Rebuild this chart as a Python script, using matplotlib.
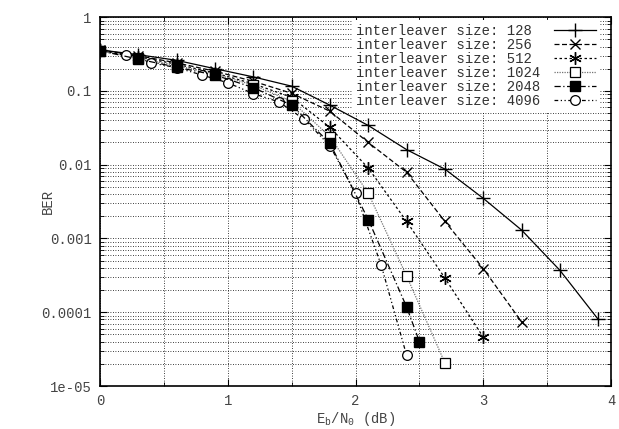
import numpy as np
import matplotlib
matplotlib.use('Agg')
import matplotlib.pyplot as plt
from matplotlib.ticker import FixedLocator, FixedFormatter, MultipleLocator, LogLocator, NullFormatter

plt.rcParams['font.family'] = ['Liberation Mono', 'DejaVu Sans Mono']
plt.rcParams['mathtext.default'] = 'regular'

# BER curves
x128 = [0, 0.3, 0.6, 0.9, 1.2, 1.5, 1.8, 2.1, 2.4, 2.7, 3.0, 3.3, 3.6, 3.9]
ber128 = [0.36, 0.31, 0.26, 0.20, 0.155, 0.116, 0.064, 0.034, 0.016, 0.0087, 0.0035, 0.0013, 0.00037, 8.0e-5]

x256 = [0, 0.3, 0.6, 0.9, 1.2, 1.5, 1.8, 2.1, 2.4, 2.7, 3.0, 3.3]
ber256 = [0.36, 0.30, 0.24, 0.185, 0.135, 0.093, 0.053, 0.020, 0.0079, 0.0017, 0.00039, 7.4e-5]

x512 = [0, 0.3, 0.6, 0.9, 1.2, 1.5, 1.8, 2.1, 2.4, 2.7, 3.0]
ber512 = [0.36, 0.29, 0.23, 0.175, 0.125, 0.082, 0.032, 0.0090, 0.0017, 0.00029, 4.6e-5]

x1024 = [0, 0.3, 0.6, 0.9, 1.2, 1.5, 1.8, 2.1, 2.4, 2.7]
ber1024 = [0.35, 0.28, 0.22, 0.17, 0.12, 0.072, 0.024, 0.0041, 0.00031, 2.05e-5]

x2048 = [0, 0.3, 0.6, 0.9, 1.2, 1.5, 1.8, 2.1, 2.4, 2.5]
ber2048 = [0.35, 0.27, 0.21, 0.164, 0.111, 0.064, 0.0194, 0.0018, 0.000118, 4.0e-5]

x4096 = [0, 0.2, 0.4, 0.6, 0.8, 1.0, 1.2, 1.4, 1.6, 1.8, 2.0, 2.2, 2.4]
ber4096 = [0.35, 0.305, 0.24, 0.207, 0.164, 0.129, 0.092, 0.071, 0.041, 0.018, 0.0041, 0.00044, 2.6e-5]

sizes = ['128', '256', '512', '1024', '2048', '4096']
yticks = [1, 0.1, 0.01, 0.001, 0.0001, 1e-05]
ytick_labels = ['1', '0.1', '0.01', '0.001', '0.0001', '1e-05']

# monospace font -> pad labels so they line up on the left
labels = [('interleaver size: ' + s).ljust(23) for s in sizes]

fig = plt.figure(figsize=(6.19, 4.29), dpi=100)
ax = fig.add_axes([0.1616, 0.1002, 0.8255, 0.8598])

ax.plot(x128, ber128, color='black', lw=0.9, ls='-', marker='+', ms=10, mew=1,
        label=labels[0])
ax.plot(x256, ber256, color='black', lw=0.9, ls=(0, (4, 2)), marker='x', ms=7, mew=1,
        label=labels[1])
ax.plot(x512, ber512, color='black', lw=0.9, ls=(0, (2, 2)), marker=(6, 2, 0), ms=9, mew=1,
        label=labels[2])
ax.plot(x1024, ber1024, color='0.45', lw=0.9, ls=(0, (1, 1)), marker='s', ms=7, mew=0.9,
        mfc='white', mec='black', label=labels[3])
ax.plot(x2048, ber2048, color='black', lw=0.9, ls=(0, (5, 2, 1, 2)), marker='s', ms=7,
        mfc='black', mec='black', label=labels[4], zorder=3)
ax.plot(x4096, ber4096, color='black', lw=0.9, ls=(0, (3, 2, 1, 2, 1, 2)), marker='o', ms=7,
        mew=0.9, mfc='white', mec='black', label=labels[5], zorder=2.5)

ax.set_yscale('log')
ax.set_xlim(0, 4)
ax.set_ylim(1e-05, 1)
ax.xaxis.set_major_locator(MultipleLocator(1))
ax.xaxis.set_minor_locator(MultipleLocator(0.5))
ax.yaxis.set_major_locator(FixedLocator(yticks))
ax.yaxis.set_major_formatter(FixedFormatter(ytick_labels))
ax.yaxis.set_minor_locator(LogLocator(base=10, subs=np.arange(2, 10)))
ax.yaxis.set_minor_formatter(NullFormatter())

ax.grid(True, which='both', color='black', ls=(0, (1, 2)), lw=0.6)
ax.tick_params(which='both', direction='in', top=True, right=True, labelsize=10,
               colors='black', labelcolor='#444444')
ax.tick_params(which='major', length=5, pad=6)
ax.tick_params(which='minor', length=3)
for s in ax.spines.values():
    s.set_linewidth(1.2)

ax.set_xlabel('E$_b$/N$_0$ (dB)', fontsize=10, color='#444444')
ax.xaxis.set_label_coords(0.5, -0.065)
ax.set_ylabel('BER', fontsize=10, color='#444444')
ax.yaxis.set_label_coords(-0.088, 0.5)

leg = ax.legend(loc='upper right', bbox_to_anchor=(0.978, 0.992), markerfirst=False,
                frameon=True, fancybox=False, edgecolor='none', facecolor='white',
                framealpha=1, fontsize=10, handlelength=3.0, labelspacing=0.0,
                borderpad=0.3, borderaxespad=0.0, handletextpad=0.4)
for t in leg.get_texts():
    t.set_color('#333333')

fig.savefig('out.png', dpi=100)
